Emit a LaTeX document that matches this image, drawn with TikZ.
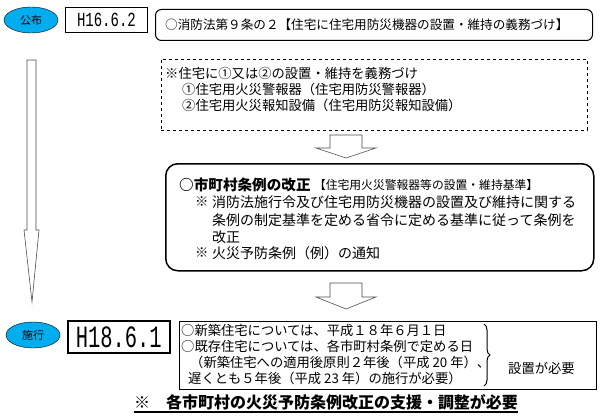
\documentclass[tikz,border=0pt]{standalone}
\usepackage{fontspec}
\setmainfont{Noto Sans CJK JP}
\newfontfamily\datefont[FakeStretch=0.7]{Liberation Mono}
\newfontfamily\bigdatefont[FakeStretch=0.66]{Liberation Mono}
\usetikzlibrary{positioning,shapes.geometric,decorations.pathreplacing}

\newcommand{\fs}[1]{\fontsize{#1}{#1}\selectfont}

\tikzset{
  stamp/.style={ellipse, draw, fill=cyan, inner sep=0pt, minimum width=54pt, minimum height=26pt, font=\fs{11}},
  datebox/.style={draw, rectangle, inner sep=0pt, anchor=north west},
  frame/.style={draw, rectangle, inner sep=0pt, anchor=north west},
  line/.style={anchor=west, inner sep=0pt, font=\fs{13.3}},
  hollow/.style={draw=black!70, fill=white, line width=0.6pt, line join=miter},
}

\begin{document}
\begin{tikzpicture}[x=1pt, y=-1pt]
  \useasboundingbox (0,0) rectangle (600,420);

  % first row
  \node[stamp] (koufu) at (31,20) {公布};
  \node[datebox, line width=0.9pt, minimum width=82pt, minimum height=25pt] (date1) at (65,7) {\datefont\fs{20}H16.6.2};
  \node[frame, rounded corners=6pt, line width=1pt, minimum width=437pt, minimum height=31pt] (law) at (155,9) {};
  \node[line, font=\fs{12.6}] (lawtext) at (165,24.5) {○消防法第９条の２【住宅に住宅用防災機器の設置・維持の義務づけ】};

  % dashed box
  \node[frame, dashed, line width=0.8pt, minimum width=426pt, minimum height=71pt] (duty) at (161,59) {};
  \node[line] (duty1) at (165,73) {※住宅に①又は②の設置・維持を義務づけ};
  \node[line] (duty2) at (182,89) {①住宅用火災警報器（住宅用防災警報器）};
  \node[line] (duty3) at (182,105) {②住宅用火災報知設備（住宅用防災報知設備）};

  % block arrows
  \draw[hollow] (330,135) -- (362,135) -- (362,148) -- (376,148) -- (346,158) -- (316,148) -- (330,148) -- cycle;
  \draw[hollow] (330,283) -- (362,283) -- (362,297) -- (376,297) -- (346,309) -- (316,297) -- (330,297) -- cycle;

  % long arrow on the left
  \draw[hollow] (27,60) -- (36,60) -- (36,230) -- (39,230) -- (32,302) -- (24,230) -- (27,230) -- cycle;

  % ordinance box
  \node[frame, rounded corners=12pt, line width=1.5pt, minimum width=428pt, minimum height=107pt] (ord) at (165,163) {};
  \node[line, font=\fs{14.6}\bfseries] (ord1) at (179,185) {○市町村条例の改正};
  \node[line, font=\fs{11.8}, right=3pt of ord1.east] (ord1b) {【住宅用火災警報器等の設置・維持基準】};
  \node[line] (ord2m) at (195,202) {※};
  \node[line, font=\fs{14}] (ord2) at (212,202) {消防法施行令及び住宅用防災機器の設置及び維持に関する};
  \node[line, font=\fs{14}] (ord3) at (212,220) {条例の制定基準を定める省令に定める基準に従って条例を};
  \node[line, font=\fs{14}] (ord4) at (212,237) {改正};
  \node[line] (ord5m) at (195,253) {※};
  \node[line, font=\fs{14}] (ord5) at (212,253) {火災予防条例（例）の通知};

  % enforcement row
  \node[stamp] (sekou) at (33,335) {施行};
  \node[datebox, line width=1.6pt, minimum width=102pt, minimum height=32pt] (date2) at (67,320) {\bigdatefont\fs{31}H18.6.1};
  \node[frame, line width=1.3pt, minimum width=417pt, minimum height=68pt] (enf) at (179,321) {};
  \node[line] (enf1) at (181,330) {○新築住宅については、平成１８年６月１日};
  \node[line] (enf2) at (181,346) {○既存住宅については、各市町村条例で定める日};
  \node[line] (enf3) at (190,362) {（新築住宅への適用後原則２年後（平成 20 年）、};
  \node[line] (enf4) at (188,378) {遅くとも５年後（平成 23 年）の施行が必要）};
  \draw[decorate, decoration={brace, amplitude=6pt}, line width=1pt] (484,324) -- (484,386);
  \node[line] (need) at (508,368) {設置が必要};

  % note
  \node[inner sep=0pt, font=\fs{16}\bfseries] (note) at (326,402) {※　各市町村の火災予防条例改正の支援・調整が必要};
  \draw[line width=1.2pt] ([yshift=-2pt]note.south west) -- ([yshift=-2pt]note.south east);
\end{tikzpicture}
\end{document}
